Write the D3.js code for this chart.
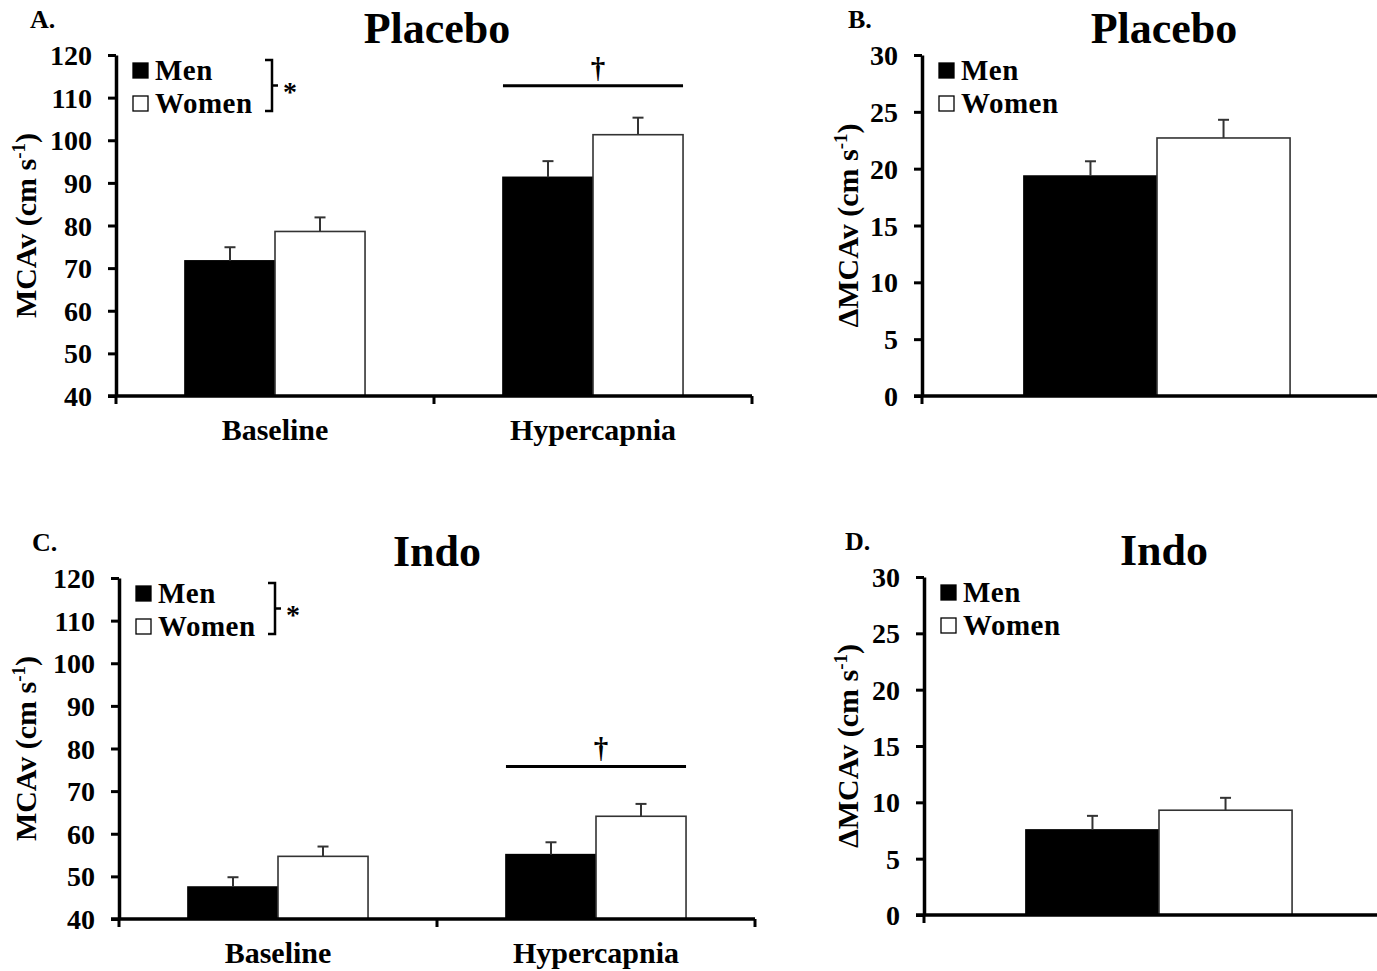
<!DOCTYPE html>
<html>
<head>
<meta charset="utf-8">
<script src="https://cdn.jsdelivr.net/npm/d3@7"></script>
<style>
  html, body { margin: 0; padding: 0; background: #fff; }
  svg text { font-family: "Liberation Serif", "Times New Roman", serif; font-weight: bold; fill: #000; }
</style>
</head>
<body>
<svg id="fig" width="1377" height="971"></svg>
<script>
// ---- data ----------------------------------------------------------------
const conditions = ["Baseline", "Hypercapnia"];
const sexes = ["Men", "Women"];

// MCAv (cm s-1), mean and SE
const placeboMen = [71.7, 91.3];
const placeboMenSE = [3.2, 3.8];
const placeboWomen = [78.6, 101.3];
const placeboWomenSE = [3.3, 4.0];

const indoMen = [47.5, 55.1];
const indoMenSE = [2.3, 2.9];
const indoWomen = [54.7, 64.1];
const indoWomenSE = [2.3, 2.9];

// change in MCAv with hypercapnia: [Men, Women]
const deltaCategory = ["Hypercapnia"];
const deltaPlacebo = [19.35, 22.7];
const deltaPlaceboSE = [1.3, 1.6];
const deltaIndo = [7.55, 9.3];
const deltaIndoSE = [1.25, 1.1];

const mcavTicks = [40, 50, 60, 70, 80, 90, 100, 110, 120];
const deltaTicks = [0, 5, 10, 15, 20, 25, 30];

// level of the hypercapnia significance bar (cm s-1)
const sigPlacebo = 112.8;
const sigIndo = 75.8;

// ---- drawing -------------------------------------------------------------
const svg = d3.select("#fig");
const AXIS_W = 3.5;

function rows(cats, men, menSE, women, womenSE) {
  const out = [];
  cats.forEach((c, i) => {
    out.push({ cat: c, sex: "Men", v: men[i], se: menSE[i] });
    out.push({ cat: c, sex: "Women", v: women[i], se: womenSE[i] });
  });
  return out;
}

function drawPanel(p) {
  const g = svg.append("g");
  const y = d3.scaleLinear().domain([p.ticks[0], p.ticks[p.ticks.length - 1]]).range([p.bottom, p.top]);
  const x = d3.scaleBand().domain(p.cats).range([p.left, p.right]);
  const xs = d3.scaleBand().domain(sexes).range([0, x.bandwidth()]).paddingInner(0).paddingOuter(0.766);

  // bars
  g.selectAll("rect.bar").data(p.data).join("rect")
    .attr("class", "bar")
    .attr("x", d => x(d.cat) + xs(d.sex))
    .attr("width", xs.bandwidth())
    .attr("y", d => y(d.v))
    .attr("height", d => y(y.domain()[0]) - y(d.v))
    .attr("fill", d => d.sex === "Men" ? "#000" : "#fff")
    .attr("stroke", d => d.sex === "Men" ? "#000" : "#333")
    .attr("stroke-width", 1.6);

  // upper error bars
  const eb = g.selectAll("g.err").data(p.data).join("g").attr("class", "err");
  eb.append("line")
    .attr("x1", d => x(d.cat) + xs(d.sex) + xs.bandwidth() / 2)
    .attr("x2", d => x(d.cat) + xs(d.sex) + xs.bandwidth() / 2)
    .attr("y1", d => y(d.v))
    .attr("y2", d => y(d.v + d.se))
    .attr("stroke", "#333").attr("stroke-width", 2);
  eb.append("line")
    .attr("x1", d => x(d.cat) + xs(d.sex) + xs.bandwidth() / 2 - 5.5)
    .attr("x2", d => x(d.cat) + xs(d.sex) + xs.bandwidth() / 2 + 5.5)
    .attr("y1", d => y(d.v + d.se))
    .attr("y2", d => y(d.v + d.se))
    .attr("stroke", "#333").attr("stroke-width", 2);

  // y axis
  const ya = g.append("g")
    .attr("transform", `translate(${p.left},0)`)
    .call(d3.axisLeft(y).tickValues(p.ticks).tickSize(8).tickSizeOuter(0).tickPadding(16));
  ya.select(".domain").attr("stroke", "#000").attr("stroke-width", AXIS_W);
  ya.selectAll(".tick line").attr("stroke", "#000").attr("stroke-width", 3);
  ya.selectAll(".tick text").style("font-size", "28px").attr("dy", "0.34em");

  // x axis: baseline plus downward ticks at the category boundaries
  const xb = y(y.domain()[0]);
  g.append("line")
    .attr("x1", p.left - 8).attr("x2", p.right)
    .attr("y1", xb).attr("y2", xb)
    .attr("stroke", "#000").attr("stroke-width", AXIS_W);
  const edges = p.cats.map(c => x(c)).concat([x.range()[1]]);
  g.selectAll("line.xt").data(edges).join("line")
    .attr("class", "xt")
    .attr("x1", d => d).attr("x2", d => d)
    .attr("y1", xb).attr("y2", xb + 8)
    .attr("stroke", "#000").attr("stroke-width", 3);
  if (p.showCats) {
    g.selectAll("text.xl").data(p.cats).join("text")
      .attr("class", "xl")
      .attr("x", d => x(d) + x.bandwidth() / 2)
      .attr("y", xb + 44)
      .attr("text-anchor", "middle")
      .style("font-size", "30px")
      .text(d => d);
  }

  // y axis title
  const yt = g.append("text")
    .attr("transform", `translate(${p.yTitleX},${(p.top + p.bottom) / 2}) rotate(-90)`)
    .attr("text-anchor", "middle")
    .style("font-size", "30px");
  yt.append("tspan").text(p.yTitle + " (cm s");
  yt.append("tspan").attr("dy", -11).style("font-size", "19px").text("-1");
  yt.append("tspan").attr("dy", 11).text(")");

  // panel title and letter
  g.append("text")
    .attr("x", p.titleX).attr("y", p.top - 12)
    .attr("text-anchor", "middle")
    .style("font-size", "44px")
    .text(p.title);
  g.append("text")
    .attr("x", p.letterX).attr("y", p.top - 27)
    .style("font-size", "26px")
    .text(p.letter);

  // legend
  const lg = g.append("g").attr("transform", `translate(${p.left + 17},${p.top + 8})`);
  sexes.forEach((s, i) => {
    lg.append("rect")
      .attr("x", 0).attr("y", i * 33)
      .attr("width", 15).attr("height", 15)
      .attr("fill", s === "Men" ? "#000" : "#fff")
      .attr("stroke", "#000").attr("stroke-width", 1.3);
    lg.append("text")
      .attr("x", 22).attr("y", i * 33 + 17)
      .style("font-size", "29px")
      .style("letter-spacing", "0.5px")
      .text(s);
  });
  if (p.bracket) {
    const bx = 132, top = -3, bot = 48, mid = (top + bot) / 2;
    lg.append("path")
      .attr("d", `M${bx},${top} H${bx + 7} V${bot} H${bx}`)
      .attr("fill", "none").attr("stroke", "#000").attr("stroke-width", 2.5);
    lg.append("line")
      .attr("x1", bx + 7).attr("x2", bx + 13)
      .attr("y1", mid).attr("y2", mid)
      .attr("stroke", "#000").attr("stroke-width", 2.5);
    lg.append("text")
      .attr("x", bx + 25).attr("y", mid + 15)
      .attr("text-anchor", "middle")
      .style("font-size", "28px")
      .text("*");
  }

  // significance bar over the hypercapnia pair
  if (p.sig !== undefined) {
    const c = p.cats[1];
    const x0 = x(c) + xs("Men"), x1 = x(c) + xs("Women") + xs.bandwidth();
    g.append("line")
      .attr("x1", x0).attr("x2", x1)
      .attr("y1", y(p.sig)).attr("y2", y(p.sig))
      .attr("stroke", "#000").attr("stroke-width", 3);
    g.append("text")
      .attr("x", x(c) + x.bandwidth() / 2 + 5).attr("y", y(p.sig) - 8)
      .attr("text-anchor", "middle")
      .style("font-size", "29px")
      .text("\u2020");
  }
}

drawPanel({
  letter: "A.", title: "Placebo", yTitle: "MCAv",
  cats: conditions, ticks: mcavTicks, showCats: true, bracket: true, sig: sigPlacebo,
  data: rows(conditions, placeboMen, placeboMenSE, placeboWomen, placeboWomenSE),
  left: 116, right: 752, top: 55, bottom: 396,
  titleX: 437, letterX: 30, yTitleX: 36
});
drawPanel({
  letter: "B.", title: "Placebo", yTitle: "\u0394MCAv",
  cats: deltaCategory, ticks: deltaTicks, showCats: false, bracket: false,
  data: rows(deltaCategory, [deltaPlacebo[0]], [deltaPlaceboSE[0]], [deltaPlacebo[1]], [deltaPlaceboSE[1]]),
  left: 922, right: 1392, top: 55, bottom: 396,
  titleX: 1164, letterX: 848, yTitleX: 858
});
drawPanel({
  letter: "C.", title: "Indo", yTitle: "MCAv",
  cats: conditions, ticks: mcavTicks, showCats: true, bracket: true, sig: sigIndo,
  data: rows(conditions, indoMen, indoMenSE, indoWomen, indoWomenSE),
  left: 119, right: 755, top: 578, bottom: 919,
  titleX: 437, letterX: 32, yTitleX: 36
});
drawPanel({
  letter: "D.", title: "Indo", yTitle: "\u0394MCAv",
  cats: deltaCategory, ticks: deltaTicks, showCats: false, bracket: false,
  data: rows(deltaCategory, [deltaIndo[0]], [deltaIndoSE[0]], [deltaIndo[1]], [deltaIndoSE[1]]),
  left: 924, right: 1394, top: 577, bottom: 915,
  titleX: 1164, letterX: 845, yTitleX: 858
});
</script>
</body>
</html>
